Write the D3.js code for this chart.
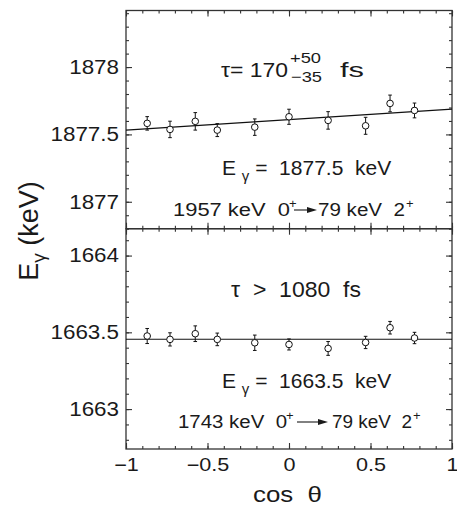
<!DOCTYPE html>
<html>
<head>
<meta charset="utf-8">
<script src="https://cdn.jsdelivr.net/npm/d3@7.9.0/dist/d3.min.js"></script>
<style>
  html, body { margin: 0; padding: 0; background: #fff; }
  svg { display: block; font-family: "Liberation Sans", Arial, sans-serif; }
</style>
</head>
<body>
<svg id="chart" width="457" height="508"></svg>
<script>
const cosTheta = [-0.87, -0.73, -0.575, -0.44, -0.21, 0, 0.24, 0.47, 0.62, 0.77];

const e1877 = [1877.582, 1877.537, 1877.597, 1877.532, 1877.554, 1877.631, 1877.604, 1877.564, 1877.730, 1877.678];
const err1877 = [0.05, 0.061, 0.065, 0.048, 0.061, 0.056, 0.065, 0.063, 0.062, 0.055];
const fit1877 = [1877.61, 0.078]; // intercept, slope

const e1663 = [1663.476, 1663.454, 1663.491, 1663.454, 1663.432, 1663.421, 1663.395, 1663.434, 1663.53, 1663.463];
const err1663 = [0.049, 0.043, 0.051, 0.041, 0.05, 0.036, 0.045, 0.04, 0.041, 0.037];
const fit1663 = [1663.455, 0];

const xTicks = [-1, -0.5, 0, 0.5, 1];
const yTicksTop = [1877, 1877.5, 1878];
const yTicksBot = [1663, 1663.5, 1664];

const frameL = 126, frameR = 452, frameT = 10.5, frameM = 228.7, frameB = 449;

let svg = d3.select('#chart');

let x = d3.scaleLinear().domain([-1, 1]).range([frameL, frameR]);
let yTop = d3.scaleLinear().domain([1876.8, 1878.42]).range([frameM, frameT]);
let yBot = d3.scaleLinear().domain([1662.74, 1664.175]).range([frameB, frameM]);

let fmt = (v) => (v % 1 === 0 ? d3.format('d')(v) : d3.format('.1f')(v)).replace('-', '\u2212');

function minorTicks(scale, step) {
  let [a, b] = d3.extent(scale.domain());
  let out = [];
  for (let v = Math.ceil(a / step - 1e-6) * step; v <= b + 1e-9; v += step) {
    out.push(+v.toFixed(4));
  }
  return out;
}

// the original lettering is a bit wider than Liberation Sans
function stretch(sel, k) {
  sel.each(function () {
    let w = this.getComputedTextLength();
    d3.select(this).attr('textLength', w * k).attr('lengthAdjust', 'spacingAndGlyphs');
  });
}
function fitTo(sel, w) {
  sel.attr('textLength', w).attr('lengthAdjust', 'spacingAndGlyphs');
  return sel;
}

function drawPanel(y, yTicks, values, errs, fit, showXLabels) {
  let [y0, y1] = y.range();
  let g = svg.append('g');

  // frame ticks pointing inwards, on all four sides
  let sides = [
    [d3.axisLeft(y), `translate(${frameL},0)`, yTicks, minorTicks(y, 0.1), true, 'yl'],
    [d3.axisRight(y), `translate(${frameR},0)`, yTicks, minorTicks(y, 0.1), false, 'yr'],
    [d3.axisTop(x), `translate(0,${y1})`, xTicks, minorTicks(x, 0.1), false, 'xt'],
    [d3.axisBottom(x), `translate(0,${y0})`, xTicks, minorTicks(x, 0.1), showXLabels, 'xb']
  ];
  sides.forEach(([axis, tr, major, minor, labels, cls]) => {
    g.append('g').attr('transform', tr)
      .call(axis.tickValues(minor).tickSize(-3).tickSizeOuter(0).tickFormat(''))
      .call((s) => s.select('.domain').remove());
    g.append('g').attr('class', cls).attr('transform', tr)
      .call(axis.tickValues(major).tickSize(-6).tickSizeOuter(0)
        .tickPadding(labels ? 7 : 0).tickFormat(labels ? fmt : ''))
      .call((s) => s.select('.domain').remove());
  });
  g.selectAll('g').attr('font-family', null);
  g.selectAll('.tick line').attr('stroke', '#333').attr('stroke-width', 1.1);
  g.selectAll('.tick text').attr('fill', '#1a1a1a');
  g.select('.yl').selectAll('.tick text').attr('font-size', 20).call(stretch, 1.12);
  g.select('.xb').selectAll('.tick text').attr('font-size', 18).attr('dy', '0.85em').call(stretch, 1.2);

  g.append('rect')
    .attr('x', frameL).attr('y', y1)
    .attr('width', frameR - frameL).attr('height', y0 - y1)
    .attr('fill', 'none').attr('stroke', '#333').attr('stroke-width', 1.3);

  // fitted line
  let line = d3.line().x((d) => x(d)).y((d) => y(fit[0] + fit[1] * d));
  g.append('path').attr('d', line([-1, 1]))
    .attr('fill', 'none').attr('stroke', '#111').attr('stroke-width', 1.1);

  // error bars + open circles
  let pts = g.append('g').attr('stroke', '#111').attr('stroke-width', 1).attr('fill', 'none');
  cosTheta.forEach((c, i) => {
    let cx = x(c);
    let lo = y(values[i] - errs[i]), hi = y(values[i] + errs[i]);
    pts.append('line').attr('x1', cx).attr('x2', cx).attr('y1', lo).attr('y2', hi);
    pts.append('line').attr('x1', cx - 1.8).attr('x2', cx + 1.8).attr('y1', lo).attr('y2', lo);
    pts.append('line').attr('x1', cx - 1.8).attr('x2', cx + 1.8).attr('y1', hi).attr('y2', hi);
    pts.append('circle').attr('cx', cx).attr('cy', y(values[i])).attr('r', 3.3).attr('fill', '#fff');
  });
  return g;
}

let gTop = drawPanel(yTop, yTicksTop, e1877, err1877, fit1877, false);
let gBot = drawPanel(yBot, yTicksBot, e1663, err1663, fit1663, true);

// annotations
function label(g, x0, y0, size, str, w) {
  let t = g.append('text').attr('x', x0).attr('y', y0).attr('font-size', size)
    .attr('fill', '#1a1a1a').attr('xml:space', 'preserve').text(str);
  if (w) fitTo(t, w);
  return t;
}

function eGamma(g, yBase, value) {
  let t = g.append('text').attr('x', 222).attr('y', yBase).attr('font-size', 21).attr('fill', '#1a1a1a')
    .attr('xml:space', 'preserve');
  t.append('tspan').text('E ');
  t.append('tspan').attr('font-size', 15).attr('dy', 6).text('\u03b3');
  t.append('tspan').attr('dy', -6).text(' =  ' + value + '  keV');
}

function transition(g, yBase, level, x0, w0, arrowX0, arrowX1, x1, w1) {
  label(g, x0, yBase, 18, level + ' keV  0', w0);
  label(g, x0 + w0 - 1, yBase - 8, 13, '+');
  label(g, x1, yBase, 18, '79 keV  2', w1);
  label(g, x1 + w1 + 1, yBase - 8, 13, '+');
  g.append('line').attr('x1', arrowX0).attr('x2', arrowX1 - 6)
    .attr('y1', yBase - 6).attr('y2', yBase - 6).attr('stroke', '#1a1a1a').attr('stroke-width', 1.1);
  g.append('path')
    .attr('d', `M${arrowX1},${yBase - 6} L${arrowX1 - 10},${yBase - 9} L${arrowX1 - 10},${yBase - 3} Z`)
    .attr('fill', '#1a1a1a');
}

// upper panel text
label(gTop, 221, 77, 21, '\u03c4= 170', 67);
label(gTop, 290, 63, 15, '+50', 31);
label(gTop, 291, 82, 15, '\u221235', 31);
label(gTop, 340, 77, 21, 'fs', 24);
eGamma(gTop, 175, '1877.5');
transition(gTop, 216, '1957', 173, 117, 294, 317, 318, 87);

// lower panel text
label(gBot, 231, 297, 22, '\u03c4  >  1080  fs', 130);
eGamma(gBot, 388, '1663.5');
transition(gBot, 428, '1743', 178, 109, 297, 328, 332, 80);

// axis titles
let yt = svg.append('text')
  .attr('transform', 'translate(38,231) rotate(-90)')
  .attr('text-anchor', 'middle').attr('font-size', 27).attr('fill', '#1a1a1a');
yt.append('tspan').text('E');
yt.append('tspan').attr('font-size', 19).attr('dy', 7).text('\u03b3');
yt.append('tspan').attr('dy', -7).attr('xml:space', 'preserve').text(' (keV)');

label(svg, 253, 502, 22, 'cos  \u03b8', 69);
</script>
</body>
</html>
